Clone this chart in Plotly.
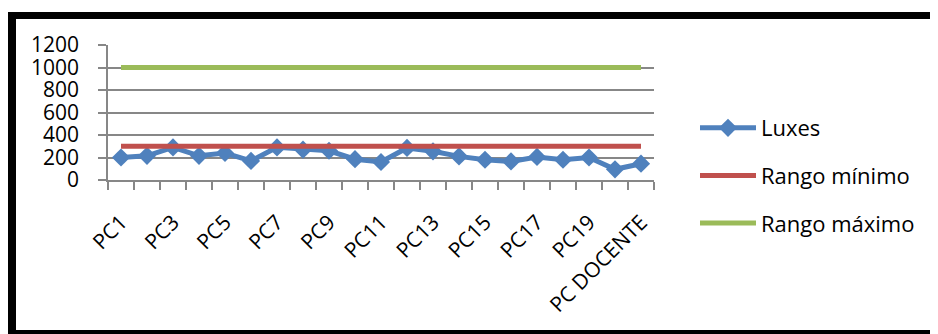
import plotly.graph_objects as go

categories = ["PC1", "PC2", "PC3", "PC4", "PC5", "PC6", "PC7", "PC8", "PC9", "PC10",
              "PC11", "PC12", "PC13", "PC14", "PC15", "PC16", "PC17", "PC18", "PC19", "PC20",
              "PC DOCENTE"]
luxes = [200, 215, 290, 215, 240, 170, 290, 270, 260, 185,
         160, 285, 255, 210, 180, 165, 205, 180, 200, 95, 145]
rango_minimo = [300] * len(categories)
rango_maximo = [1000] * len(categories)
y_ticks = [0, 200, 400, 600, 800, 1000, 1200]

# page has an 8px body margin: figure coords = page coords - 8
OFF = 8
W, H = 938 - OFF, 334 - OFF
L, R, T, B = 108 - OFF, 654 - OFF, 45 - OFF, 180 - OFF
pw, ph = R - L, B - T

def px(x):
    return (x - OFF - L) / pw

def py(y):
    return (B - (y - OFF)) / ph

FONT = "Open Sans"
blue, red, green = "#4F81BD", "#C0504D", "#9BBB59"
grid = "#878787"

fig = go.Figure()
fig.add_trace(go.Scatter(x=categories, y=luxes, name="Luxes", mode="lines+markers",
                         line=dict(color=blue, width=5),
                         marker=dict(symbol="diamond", size=14, color=blue),
                         legendgroup="a"))
fig.add_trace(go.Scatter(x=categories, y=rango_minimo, name="Rango mínimo", mode="lines",
                         line=dict(color=red, width=5), legendgroup="b"))
fig.add_trace(go.Scatter(x=categories, y=rango_maximo, name="Rango máximo", mode="lines",
                         line=dict(color=green, width=5), legendgroup="c"))

ticktext = [c if i % 2 == 0 else "" for i, c in enumerate(categories)]

fig.update_xaxes(type="category", tickmode="array", tickvals=categories, ticktext=ticktext,
                 tickson="boundaries", ticks="outside", ticklen=8, tickwidth=1.5, tickcolor=grid,
                 showgrid=False, showline=True, linecolor=grid, linewidth=1.5,
                 tickangle=-45, tickfont=dict(family=FONT, size=21, color="black"),
                 ticklabelstandoff=20, ticklabelshift=0,
                 range=[-0.5, len(categories) - 0.5], zeroline=False, automargin=False)
fig.update_yaxes(range=[0, 1200], tickmode="array", tickvals=y_ticks,
                 ticks="outside", ticklen=8, tickwidth=1.5, tickcolor=grid,
                 showgrid=True, gridcolor=grid, gridwidth=1.5,
                 showline=True, linecolor=grid, linewidth=1.5, zeroline=False,
                 tickfont=dict(family=FONT, size=21, color="black"),
                 ticklabelstandoff=15, automargin=False)

shapes = [
    dict(type="rect", xref="paper", yref="paper", x0=px(8), x1=px(16), y0=py(334), y1=py(12),
         fillcolor="black", line=dict(width=0), layer="above"),
    dict(type="rect", xref="paper", yref="paper", x0=px(8), x1=px(940), y0=py(19), y1=py(12),
         fillcolor="black", line=dict(width=0), layer="above"),
    dict(type="rect", xref="paper", yref="paper", x0=px(8), x1=px(940), y0=py(334), y1=py(330),
         fillcolor="black", line=dict(width=0), layer="above"),
]

fig.update_layout(
    width=W, height=H,
    margin=dict(l=L, r=W - R, t=T, b=H - B, pad=0, autoexpand=False),
    paper_bgcolor="white", plot_bgcolor="white",
    shapes=shapes,
    showlegend=True,
    legend=dict(x=px(695), y=py(107), xanchor="left", yanchor="top",
                font=dict(family=FONT, size=22, color="black"),
                traceorder="grouped", tracegroupgap=16, itemwidth=56,
                maxheight=300, bgcolor="rgba(0,0,0,0)"),
)

fig.write_html("out.html")
